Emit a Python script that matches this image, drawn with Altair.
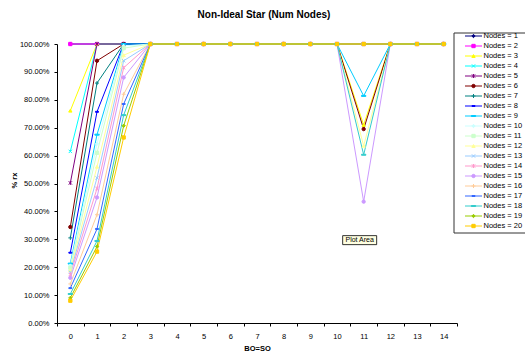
import altair as alt
import pandas as pd

# ---------------- data ----------------
bo_so = ["0", "1", "2", "3", "4", "5", "6", "7", "8", "9", "10", "11", "12", "13", "14"]

series = ["Nodes = 1", "Nodes = 2", "Nodes = 3", "Nodes = 4", "Nodes = 5",
          "Nodes = 6", "Nodes = 7", "Nodes = 8", "Nodes = 9", "Nodes = 10",
          "Nodes = 11", "Nodes = 12", "Nodes = 13", "Nodes = 14", "Nodes = 15",
          "Nodes = 16", "Nodes = 17", "Nodes = 18", "Nodes = 19", "Nodes = 20"]

# % rx values (percent) for BO=SO = 0..14
n01 = [100.0, 100.0, 100.0, 100, 100, 100, 100, 100, 100, 100, 100, 100.0, 100, 100, 100]
n02 = [100.0, 100.0, 100.0, 100, 100, 100, 100, 100, 100, 100, 100, 100.0, 100, 100, 100]
n03 = [76.1, 100.0, 100.0, 100, 100, 100, 100, 100, 100, 100, 100, 71.0, 100, 100, 100]
n04 = [61.5, 100.0, 100.0, 100, 100, 100, 100, 100, 100, 100, 100, 100.0, 100, 100, 100]
n05 = [50.2, 100.0, 100.0, 100, 100, 100, 100, 100, 100, 100, 100, 100.0, 100, 100, 100]
n06 = [34.4, 94.0, 100.0, 100, 100, 100, 100, 100, 100, 100, 100, 69.5, 100, 100, 100]
n07 = [30.5, 86.0, 100.0, 100, 100, 100, 100, 100, 100, 100, 100, 100.0, 100, 100, 100]
n08 = [25.2, 75.7, 100.0, 100, 100, 100, 100, 100, 100, 100, 100, 100.0, 100, 100, 100]
n09 = [21.3, 67.5, 100.0, 100, 100, 100, 100, 100, 100, 100, 100, 81.4, 100, 100, 100]
n10 = [20.6, 64.2, 99.3, 100, 100, 100, 100, 100, 100, 100, 100, 100.0, 100, 100, 100]
n11 = [19.8, 61.0, 98.5, 100, 100, 100, 100, 100, 100, 100, 100, 100.0, 100, 100, 100]
n12 = [18.9, 56.0, 96.0, 100, 100, 100, 100, 100, 100, 100, 100, 63.5, 100, 100, 100]
n13 = [18.2, 52.0, 94.0, 100, 100, 100, 100, 100, 100, 100, 100, 100.0, 100, 100, 100]
n14 = [17.4, 48.2, 91.5, 100, 100, 100, 100, 100, 100, 100, 100, 100.0, 100, 100, 100]
n15 = [16.2, 45.0, 88.0, 100, 100, 100, 100, 100, 100, 100, 100, 43.5, 100, 100, 100]
n16 = [14.0, 38.8, 82.0, 100, 100, 100, 100, 100, 100, 100, 100, 100.0, 100, 100, 100]
n17 = [12.5, 33.7, 78.5, 100, 100, 100, 100, 100, 100, 100, 100, 100.0, 100, 100, 100]
n18 = [10.4, 29.4, 74.5, 100, 100, 100, 100, 100, 100, 100, 100, 60.3, 100, 100, 100]
n19 = [9.0, 27.4, 70.7, 100, 100, 100, 100, 100, 100, 100, 100, 100.0, 100, 100, 100]
n20 = [8.0, 25.6, 66.5, 100, 100, 100, 100, 100, 100, 100, 100, 100.0, 100, 100, 100]

values = [n01, n02, n03, n04, n05, n06, n07, n08, n09, n10,
          n11, n12, n13, n14, n15, n16, n17, n18, n19, n20]

colors = ["#000080", "#FF00FF", "#FFFF00", "#00FFFF", "#800080",
          "#800000", "#008080", "#0000FF", "#00CCFF", "#CCFFFF",
          "#CCFFCC", "#FFFF99", "#99CCFF", "#FF99CC", "#CC99FF",
          "#FFCC99", "#3366FF", "#33CCCC", "#99CC00", "#FFCC00"]

DIAMOND = "diamond"
SQUARE = "square"
TRIANGLE = "triangle-up"
XMARK = "M-1,-1L1,1M-1,1L1,-1"
STAR = "M-1,-1L1,1M-1,1L1,-1M0,-1.2L0,1.2"
CIRCLE = "circle"
PLUS = "M-1.2,0L1.2,0M0,-1.2L0,1.2"
SDASH = "M-0.9,-0.3L0.9,-0.3L0.9,0.3L-0.9,0.3Z"
LDASH = "M-1.3,-0.3L1.3,-0.3L1.3,0.3L-1.3,0.3Z"
shapes = [DIAMOND, SQUARE, TRIANGLE, XMARK, STAR, CIRCLE, PLUS, SDASH, LDASH,
          DIAMOND, SQUARE, TRIANGLE, XMARK, STAR, CIRCLE, PLUS, SDASH, LDASH,
          DIAMOND, SQUARE]

y_ticks = [0.0, 0.1, 0.2, 0.3, 0.4, 0.5, 0.6, 0.7, 0.8, 0.9, 1.0]

title_text = "Non-Ideal Star (Num Nodes)"
note_text = "Plot Area"

# ---------------- tables ----------------
rows = []
for si, name in enumerate(series):
    for xi, cat in enumerate(bo_so):
        rows.append({"series": name, "idx": si, "bo": cat, "rx": values[si][xi] / 100.0})
df = pd.DataFrame(rows)
legend_df = pd.DataFrame({"series": series})
note_df = pd.DataFrame({"bo": ["11"], "rx": [0.297], "note": [note_text]})
title_df = pd.DataFrame({"t": [title_text]})

FONT = "Liberation Sans"

col_scale = alt.Scale(domain=series, range=colors)
shape_scale = alt.Scale(domain=series, range=shapes)

x_enc = alt.X("bo:O", sort=bo_so,
              scale=alt.Scale(type="band", domain=bo_so, paddingInner=0, paddingOuter=0),
              axis=alt.Axis(title="BO=SO", labelAngle=0, tickBand="extent",
                            tickSize=3, labelPadding=6, titlePadding=5,
                            labelFont=FONT, labelFontSize=7.5, titleFont=FONT,
                            titleFontSize=7.5, titleFontWeight="bold",
                            domainColor="black", tickColor="black",
                            labelColor="black", titleColor="black", grid=False))
y_enc = alt.Y("rx:Q", scale=alt.Scale(domain=[0, 1]),
              axis=alt.Axis(title="% rx", format=".2%", values=y_ticks,
                            labelOverlap=False, labelBound=False, tickCount=11,
                            tickSize=3, labelPadding=5, labelFont=FONT,
                            labelFontSize=7.5, titleFont=FONT, titleFontSize=7.5,
                            titleFontWeight="bold", titleX=-43, titleY=136,
                            titleAngle=-90, titleAlign="center", titleBaseline="middle",
                            domainColor="black", tickColor="black",
                            labelColor="black", titleColor="black", grid=False))

base = alt.Chart(df)
lines = base.mark_line(strokeWidth=1).encode(
    x=x_enc, y=y_enc,
    color=alt.Color("series:N", scale=col_scale, legend=None),
)
points = base.mark_point(filled=True, size=11, opacity=1, strokeWidth=1).encode(
    x=x_enc, y=y_enc,
    fill=alt.Fill("series:N", scale=col_scale, legend=None),
    stroke=alt.Stroke("series:N", scale=col_scale, legend=None),
    shape=alt.Shape("series:N", scale=shape_scale, legend=None),
)
note_box = alt.Chart(note_df).mark_point(
    shape="M-1.7,-0.45L1.7,-0.45L1.7,0.45L-1.7,0.45Z", size=400, filled=True,
    fill="#FFFFE1", stroke="black", strokeWidth=0.8, opacity=1, xOffset=-4
).encode(x=x_enc, y=y_enc)
note_txt = alt.Chart(note_df).mark_text(
    font=FONT, fontSize=7, color="black", xOffset=-4, baseline="middle", align="center"
).encode(x=x_enc, y=y_enc, text="note:N")

main = alt.layer(lines, points, note_box, note_txt)

# legend drawn by hand (line through marker, like the original)
ly = alt.Y("series:N", sort=series,
           scale=alt.Scale(type="point", domain=series, range=[-8, 182], padding=0),
           axis=None)
leg_box = alt.Chart(title_df).mark_rect(fill="white", stroke="#333333", strokeWidth=1).encode(
    x=alt.value(397), x2=alt.value(480), y=alt.value(-11), y2=alt.value(189))
leg_rule = alt.Chart(legend_df).mark_rule(strokeWidth=1).encode(
    x=alt.value(408), x2=alt.value(425), y=ly,
    color=alt.Color("series:N", scale=col_scale, legend=None))
leg_pts = alt.Chart(legend_df).mark_point(filled=True, size=11, opacity=1, strokeWidth=1).encode(
    x=alt.value(416.5), y=ly,
    fill=alt.Fill("series:N", scale=col_scale, legend=None),
    stroke=alt.Stroke("series:N", scale=col_scale, legend=None),
    shape=alt.Shape("series:N", scale=shape_scale, legend=None))
leg_txt = alt.Chart(legend_df).mark_text(
    align="left", baseline="middle", font=FONT, fontSize=7.5, color="black"
).encode(x=alt.value(426.5), y=ly, text="series:N")
title = alt.Chart(title_df).mark_text(
    align="center", baseline="alphabetic", font=FONT, fontSize=10,
    fontWeight="bold", color="black"
).encode(x=alt.value(207), y=alt.value(-26), text="t:N")

legend = alt.layer(leg_box, leg_rule, leg_pts, leg_txt, title)

chart = alt.layer(main, legend).resolve_scale(y="independent").properties(
    width=400, height=279,
    autosize=alt.AutoSizeParams(type="none"),
    padding={"left": 57, "top": 44, "right": 68, "bottom": 29},
    background="white",
).configure_view(stroke=None)

chart.save("out.html", embed_options={"renderer": "svg", "actions": False})
